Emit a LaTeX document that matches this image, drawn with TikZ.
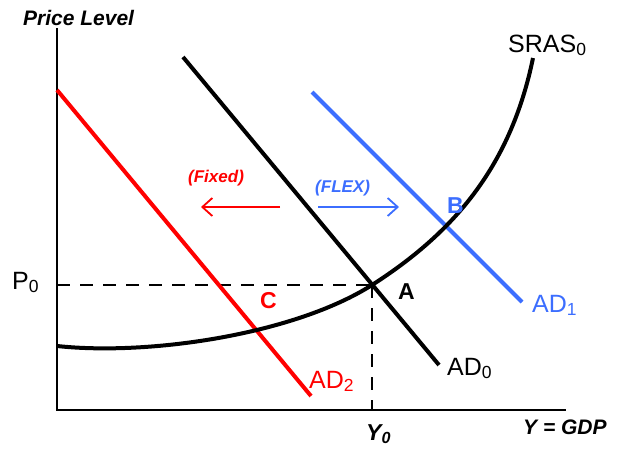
\documentclass[tikz,border=0pt]{standalone}
\usepackage{fontspec}
\setmainfont{Liberation Sans}
\usetikzlibrary{arrows.meta}
\definecolor{adred}{RGB}{255,0,0}
\definecolor{adblue}{RGB}{60,110,255}
\begin{document}
\begin{tikzpicture}[x=1pt,y=-1pt,
  lbl/.style={anchor=base west,inner sep=0pt,font=\fontsize{25}{30}\selectfont},
  blbl/.style={anchor=base west,inner sep=0pt,font=\fontsize{23}{27}\selectfont\bfseries},
  axlbl/.style={anchor=base west,inner sep=0pt,font=\fontsize{21}{25}\selectfont\bfseries\itshape},
  shlbl/.style={anchor=base west,inner sep=0pt,font=\fontsize{17}{20}\selectfont\bfseries\itshape},
  curve/.style={line width=4pt},
  axis/.style={line width=1.8pt},
  guide/.style={line width=1.8pt,dash pattern=on 13pt off 10pt},
  shiftarrow/.style={line width=1.8pt,-{Straight Barb[length=10pt,width=18pt,line width=1.8pt]}}]
\useasboundingbox (0,0) rectangle (619,448);
% axes
\coordinate (ytop) at (57,28);
\coordinate (O) at (57,410);
\coordinate (xend) at (566,410);
\draw[axis] (ytop) -- (O) -- (xend);
% equilibrium A and guides
\coordinate (A) at (372,285);
\coordinate (P0axis) at (57,285);
\coordinate (Y0axis) at (372,410);
\draw[guide] (P0axis) -- (A);
\draw[guide] (A) -- (Y0axis);
% AD curves
\coordinate (ad0a) at (183,57); \coordinate (ad0b) at (439,365);
\coordinate (ad1a) at (312,92); \coordinate (ad1b) at (522,302);
\coordinate (ad2a) at (57,90);  \coordinate (ad2b) at (311,396);
\draw[curve,adred] (ad2a) -- (ad2b);
\draw[curve,adblue] (ad1a) -- (ad1b);
\draw[curve] (ad0a) -- (ad0b);
% SRAS
\coordinate (s0) at (57,346);
\coordinate (s1) at (533,58);
\draw[curve] (s0) .. controls (150,356) and (295,334) .. (A)
  .. controls (450,235) and (510,170) .. (s1);
% shift arrows
\coordinate (ra) at (280,207); \coordinate (rb) at (201,207);
\coordinate (ba) at (318,207); \coordinate (bb) at (399,207);
\draw[shiftarrow,adred] (ra) -- (rb);
\draw[shiftarrow,adblue] (ba) -- (bb);
% labels
\node[axlbl] (pl) at (23,25) {Price Level};
\node[lbl] (p0) at (12,289) {P\textsubscript{0}};
\node[blbl] (la) at (398,299) {A};
\node[blbl,adblue] (lb) at (447,213) {B};
\node[blbl,adred] (lc) at (260,308) {C};
\node[lbl] (lad0) at (447,375) {AD\textsubscript{0}};
\node[lbl,adblue] (lad1) at (532,312) {AD\textsubscript{1}};
\node[lbl,adred] (lad2) at (309,388) {AD\textsubscript{2}};
\node[lbl] (lsras) at (508,52) {SRAS\textsubscript{0}};
\node[shlbl,adred] (lfix) at (188,182) {(Fixed)};
\node[shlbl,adblue] (lflex) at (315,192) {(FLEX)};
\node[axlbl,font=\fontsize{23}{27}\selectfont\bfseries\itshape] (ly0) at (366,440) {Y\textsubscript{0}};
\node[axlbl] (lgdp) at (523,434) {Y = GDP};
\end{tikzpicture}
\end{document}
